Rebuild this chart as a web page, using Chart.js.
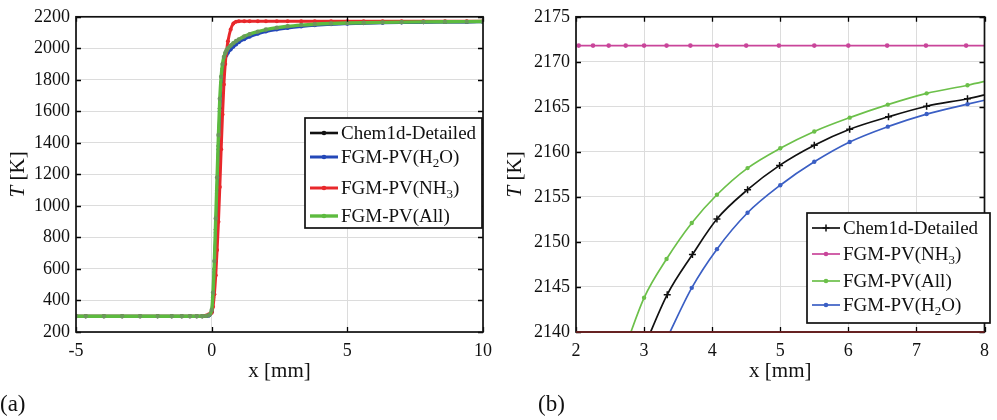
<!DOCTYPE html>
<html><head><meta charset="utf-8">
<script src="https://cdn.jsdelivr.net/npm/chart.js@4.4.0/dist/chart.umd.min.js"></script>
<style>
html,body{margin:0;padding:0;background:#fff;width:997px;height:420px;overflow:hidden}
#wa{position:absolute;left:0;top:0;width:500px;height:420px}
#wb{position:absolute;left:497px;top:0;width:500px;height:420px}
</style></head><body>
<div id="wa"><canvas id="ca" width="500" height="420"></canvas></div>
<div id="wb"><canvas id="cb" width="500" height="420"></canvas></div>
<script>
// ---------- Panel (a) data ----------
const xA = [-5, -4.64, -3.97, -3.3, -2.64, -1.99, -1.47, -1.1, -0.8, -0.55, -0.35, -0.2, -0.1, 0, 0.05, 0.1, 0.15, 0.2, 0.25, 0.3, 0.35, 0.4, 0.45, 0.5, 0.55, 0.6, 0.7, 0.8, 0.9, 1.0, 1.2, 1.4, 1.7, 2.0, 2.4, 2.8, 3.3, 3.8, 4.4, 5.0, 5.6, 6.3, 7.0, 7.8, 8.6, 9.4, 10];
const tChemA = [300, 300, 300, 300, 300, 300, 300, 300, 300, 300, 300, 301, 305, 330, 420, 600, 850, 1100, 1380, 1620, 1780, 1870, 1920, 1950, 1970, 1985, 2005, 2022, 2037, 2050, 2070, 2085, 2102, 2115, 2127, 2136, 2143.5, 2150, 2155, 2158.5, 2161, 2163.2, 2164.8, 2166, 2167, 2168, 2168.5];
const tH2OA = [300, 300, 300, 300, 300, 300, 300, 300, 300, 300, 300, 301, 305, 325, 410, 580, 830, 1080, 1360, 1600, 1770, 1860, 1915, 1940, 1958, 1972, 1992, 2010, 2025, 2038, 2058, 2074, 2092, 2106, 2119, 2129, 2138.5, 2146, 2152.5, 2156.3, 2159.3, 2162, 2163.8, 2165.4, 2166.5, 2167.4, 2168];
const tNH3A = [300, 300, 300, 300, 300, 300, 300, 300, 300, 300, 300, 305, 312, 322, 360, 440, 560, 720, 900, 1120, 1360, 1580, 1770, 1900, 1985, 2045, 2120, 2158, 2169, 2171.5, 2171.8, 2171.8, 2171.8, 2171.8, 2171.8, 2171.8, 2171.8, 2171.8, 2171.8, 2171.8, 2171.8, 2171.8, 2171.8, 2171.8, 2171.8, 2171.8, 2171.8];
const tAllA = [300, 300, 300, 300, 300, 300, 300, 300, 300, 300, 300, 302, 308, 340, 450, 650, 920, 1180, 1450, 1680, 1820, 1900, 1945, 1970, 1988, 2000, 2018, 2033, 2046, 2057, 2076, 2090, 2106, 2119, 2131, 2140, 2147.5, 2153, 2157.5, 2160.4, 2162.6, 2164.6, 2166.2, 2167.5, 2168.5, 2169.3, 2169.8];
const xTicksA = [-5, 0, 5, 10];
const yTicksA = [200, 400, 600, 800, 1000, 1200, 1400, 1600, 1800, 2000, 2200];

// ---------- Panel (b) data ----------
const xChemB = [3.0, 3.34, 3.71, 4.07, 4.52, 4.99, 5.5, 6.02, 6.59, 7.15, 7.75, 8.1];
const tChemB = [2138.3, 2144.15, 2148.6, 2152.55, 2155.8, 2158.5, 2160.74, 2162.52, 2163.9, 2165.07, 2165.9, 2166.5];
const xNH3B = [1.9, 2.04, 2.25, 2.48, 2.73, 3.0, 3.33, 3.68, 4.07, 4.5, 4.98, 5.5, 6.0, 6.57, 7.14, 7.73, 8.1];
const tNH3B = [2171.8, 2171.8, 2171.8, 2171.8, 2171.8, 2171.8, 2171.8, 2171.8, 2171.8, 2171.8, 2171.8, 2171.8, 2171.8, 2171.8, 2171.8, 2171.8, 2171.8];
const xAllB = [2.72, 3.0, 3.33, 3.7, 4.07, 4.52, 5.0, 5.5, 6.02, 6.58, 7.15, 7.75, 8.1];
const tAllB = [2138.2, 2143.8, 2148.1, 2152.1, 2155.24, 2158.2, 2160.4, 2162.27, 2163.8, 2165.25, 2166.5, 2167.4, 2168.0];
const xH2OB = [3.33, 3.7, 4.07, 4.52, 5.0, 5.5, 6.02, 6.58, 7.15, 7.75, 8.1];
const tH2OB = [2139.2, 2144.9, 2149.2, 2153.24, 2156.3, 2158.9, 2161.1, 2162.8, 2164.2, 2165.3, 2165.9];
const xTicksB = [2, 3, 4, 5, 6, 7, 8];
const yTicksB = [2140, 2145, 2150, 2155, 2160, 2165, 2170, 2175];

// ---------- Labels ----------
const labelsA = ['Chem1d-Detailed', 'FGM-PV(H_2O)', 'FGM-PV(NH_3)', 'FGM-PV(All)'];
const labelsB = ['Chem1d-Detailed', 'FGM-PV(NH_3)', 'FGM-PV(All)', 'FGM-PV(H_2O)'];
const xTitle = 'x [mm]';
const yTitleItalic = 'T';
const yTitleRest = ' [K]';
const panelTags = ['(a)', '(b)'];

const FF = '"Liberation Serif", "DejaVu Serif", serif';

function pts(xs, ys) { return xs.map((x, i) => ({ x: x, y: ys[i] })); }

function drawRich(ctx, str, x, y, size) {
  const parts = str.split(/_(\d)/);
  let cx = x;
  parts.forEach((p, i) => {
    if (i % 2 === 1) {
      ctx.font = Math.round(size * 0.7) + 'px ' + FF;
      ctx.fillText(p, cx, y + size * 0.3);
    } else {
      ctx.font = size + 'px ' + FF;
      ctx.fillText(p, cx, y);
    }
    cx += ctx.measureText(p).width;
  });
}

const framePlugin = {
  id: 'frame',
  afterDraw(chart, args, o) {
    const ctx = chart.ctx, a = chart.chartArea, xs = chart.scales.x, ys = chart.scales.y;
    ctx.save();
    // inward tick marks
    ctx.strokeStyle = '#000'; ctx.lineWidth = 1.3;
    ctx.beginPath();
    xs.ticks.forEach(t => {
      const p = Math.round(xs.getPixelForValue(t.value)) + 0.5;
      ctx.moveTo(p, a.bottom); ctx.lineTo(p, a.bottom - 5);
      ctx.moveTo(p, a.top); ctx.lineTo(p, a.top + 5);
    });
    ys.ticks.forEach(t => {
      const p = Math.round(ys.getPixelForValue(t.value)) + 0.5;
      ctx.moveTo(a.left, p); ctx.lineTo(a.left + 5, p);
      ctx.moveTo(a.right, p); ctx.lineTo(a.right - 5, p);
    });
    ctx.stroke();
    // box
    ctx.lineWidth = 1.7; ctx.strokeStyle = '#111';
    ctx.strokeRect(a.left, a.top, a.right - a.left, a.bottom - a.top);
    if (o.bottomColor) {
      ctx.strokeStyle = o.bottomColor; ctx.beginPath();
      ctx.moveTo(a.left, a.bottom); ctx.lineTo(a.right, a.bottom); ctx.stroke();
    }
    // axis titles
    ctx.fillStyle = '#111';
    ctx.textBaseline = 'middle';
    ctx.textAlign = 'center';
    ctx.font = '21px ' + FF;
    ctx.fillText(xTitle, (a.left + a.right) / 2, o.xTitleY);
    ctx.save();
    ctx.translate(o.yTitleX, (a.top + a.bottom) / 2);
    ctx.rotate(-Math.PI / 2);
    ctx.textAlign = 'left';
    ctx.font = 'italic 21px ' + FF; const w1 = ctx.measureText(yTitleItalic).width;
    ctx.font = '21px ' + FF; const w2 = ctx.measureText(yTitleRest).width;
    const sx = -(w1 + w2) / 2;
    ctx.font = 'italic 21px ' + FF; ctx.fillText(yTitleItalic, sx, 0);
    ctx.font = '21px ' + FF; ctx.fillText(yTitleRest, sx + w1, 0);
    ctx.restore();
    // panel tag
    ctx.textAlign = 'left';
    ctx.font = '23px ' + FF;
    ctx.fillText(o.tag, o.tagX, o.tagY);
    // legend
    const L = o.legend;
    ctx.fillStyle = '#fff';
    ctx.fillRect(L.x, L.y, L.w, L.h);
    ctx.strokeStyle = '#111'; ctx.lineWidth = 1.7;
    ctx.strokeRect(L.x, L.y, L.w, L.h);
    L.items.forEach((it, i) => {
      const ds = chart.data.datasets[it.ds];
      const ry = L.rows[i];
      ctx.strokeStyle = ds.borderColor; ctx.lineWidth = ds.borderWidth;
      ctx.beginPath(); ctx.moveTo(L.x + 5, ry); ctx.lineTo(L.x + 33, ry); ctx.stroke();
      const mx = L.x + 19;
      if (ds.pointStyle === 'cross') {
        ctx.lineWidth = 1.5; ctx.beginPath();
        ctx.moveTo(mx - 3.5, ry); ctx.lineTo(mx + 3.5, ry);
        ctx.moveTo(mx, ry - 3.5); ctx.lineTo(mx, ry + 3.5); ctx.stroke();
      } else {
        ctx.fillStyle = ds.borderColor; ctx.beginPath();
        ctx.arc(mx, ry, 2.3, 0, Math.PI * 2); ctx.fill();
      }
      ctx.fillStyle = '#111';
      ctx.textBaseline = 'middle';
      drawRich(ctx, ds.label, L.x + 36, ry + 1, 19);
    });
    ctx.restore();
  }
};

function scaleOpts(min, max, step, ticksArr, yWidth, xHeight) {
  const tickFont = { family: FF, size: 18 };
  const fmt = v => String(v);
  return {
    x: {
      type: 'linear', min: min[0], max: max[0],
      afterBuildTicks: s => { s.ticks = ticksArr[0].map(v => ({ value: v })); },
      afterFit: s => { s.height = xHeight; },
      grid: { color: '#dcdcdc', lineWidth: 1, drawTicks: false },
      border: { display: false },
      ticks: { color: '#111', font: tickFont, padding: 8, maxRotation: 0, callback: fmt }
    },
    y: {
      type: 'linear', min: min[1], max: max[1],
      afterBuildTicks: s => { s.ticks = ticksArr[1].map(v => ({ value: v })); },
      afterFit: s => { s.width = yWidth; },
      grid: { color: '#dcdcdc', lineWidth: 1, drawTicks: false },
      border: { display: false },
      ticks: { color: '#111', font: tickFont, padding: 6, callback: fmt }
    }
  };
}

const common = {
  responsive: false, animation: false, devicePixelRatio: 1,
  plugins: { legend: { display: false }, tooltip: { enabled: false } },
  elements: { line: { cubicInterpolationMode: 'monotone' } }
};

// Panel (a)
new Chart(document.getElementById('ca'), {
  type: 'line',
  data: {
    datasets: [
      { label: labelsA[0], data: pts(xA, tChemA), borderColor: '#111111', backgroundColor: '#111111', borderWidth: 2.6, pointRadius: 2, pointBorderWidth: 0, order: 3 },
      { label: labelsA[1], data: pts(xA, tH2OA), borderColor: '#2448b8', backgroundColor: '#2448b8', borderWidth: 3, pointRadius: 2, pointBorderWidth: 0, order: 2 },
      { label: labelsA[2], data: pts(xA, tNH3A), borderColor: '#e8282b', backgroundColor: '#e8282b', borderWidth: 3, pointRadius: 2, pointBorderWidth: 0, order: 1 },
      { label: labelsA[3], data: pts(xA, tAllA), borderColor: '#5dbb3f', backgroundColor: '#6a9a5a', borderWidth: 3.4, pointRadius: 2.2, pointBorderWidth: 0, order: 0 }
    ]
  },
  options: Object.assign({}, common, {
    layout: { padding: { left: 16, right: 11, top: 15, bottom: 48 } },
    scales: scaleOpts([-5, 200], [10, 2200], null, [xTicksA, yTicksA], 60, 40),
    plugins: Object.assign({}, common.plugins, {
      frame: {
        xTitleY: 371, yTitleX: 18, tag: panelTags[0], tagX: 0, tagY: 405,
        legend: { x: 305, y: 118, w: 177, h: 110, rows: [133, 157, 188, 216],
          items: [{ ds: 0 }, { ds: 1 }, { ds: 2 }, { ds: 3 }] }
      }
    })
  }),
  plugins: [framePlugin]
});

// Panel (b)
new Chart(document.getElementById('cb'), {
  type: 'line',
  data: {
    datasets: [
      { label: labelsB[0], data: pts(xChemB, tChemB), borderColor: '#111111', backgroundColor: '#111111', borderWidth: 1.7, pointStyle: 'cross', pointRadius: 3.5, pointBorderWidth: 1.5, order: 0 },
      { label: labelsB[1], data: pts(xNH3B, tNH3B), borderColor: '#c9459a', backgroundColor: '#c9459a', borderWidth: 1.7, pointRadius: 2.3, pointBorderWidth: 0, order: 1 },
      { label: labelsB[2], data: pts(xAllB, tAllB), borderColor: '#6cc04a', backgroundColor: '#6cc04a', borderWidth: 1.7, pointRadius: 2.2, pointBorderWidth: 0, order: 2 },
      { label: labelsB[3], data: pts(xH2OB, tH2OB), borderColor: '#3b5fc4', backgroundColor: '#3b5fc4', borderWidth: 1.7, pointRadius: 2.2, pointBorderWidth: 0, order: 3 }
    ]
  },
  options: Object.assign({}, common, {
    layout: { padding: { left: 19, right: 4, top: 12, bottom: 48 } },
    scales: scaleOpts([2, 2140], [8, 2175], null, [xTicksB, yTicksB], 60, 40),
    plugins: Object.assign({}, common.plugins, {
      frame: {
        xTitleY: 371, yTitleX: 18, tag: panelTags[1], tagX: 41, tagY: 405, bottomColor: '#7a1f1f',
        legend: { x: 310, y: 213, w: 183, h: 110, rows: [228, 254, 281, 305],
          items: [{ ds: 0 }, { ds: 1 }, { ds: 2 }, { ds: 3 }] }
      }
    })
  }),
  plugins: [framePlugin]
});
</script>
</body></html>
